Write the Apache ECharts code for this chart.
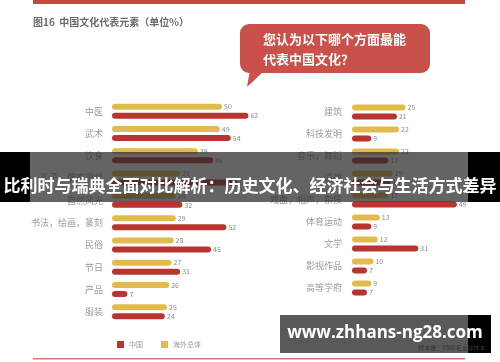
<!DOCTYPE html>
<html><head><meta charset="utf-8">
<script src="https://cdn.jsdelivr.net/npm/echarts@6/dist/echarts.min.js"></script>
<style>html,body{margin:0;padding:0;background:#fff}#c{width:500px;height:362px}</style>
</head><body><div id="c"></div>
<script>
const leftCats = ['中医','武术','饮食','孔子、儒家思想','自然风光','书法，绘画，篆刻','民俗','节日','产品','服装'];
const leftOverseas = [50,49,39,31,29,29,28,27,26,25];
const leftChina = [62,54,46,57,32,52,45,31,7,24];
const rightCats = ['建筑','科技发明','音乐，舞蹈','道教','戏曲，相声，杂技','体育运动','文学','影视作品','高等学府'];
const rightOverseas = [25,22,22,19,17,13,12,10,9];
const rightChina = [21,9,17,18,49,9,31,7,7];

const YEL = '#e3bb4d', RED = '#b8342f';
const F = '"Noto Sans CJK SC", sans-serif';
const chart = echarts.init(document.getElementById('c'));
function barSeries(name, data, color, idx){
  return {name, type:'bar', xAxisIndex:idx, yAxisIndex:idx, data, barWidth:6, barGap:'50%',
    itemStyle:{color, borderRadius:3},
    label:{show:true, position:'right', distance:2, fontSize:7, color:'#8a8a8a', fontFamily:F},
    silent:true};
}
chart.setOption({
  backgroundColor:'#fff',
  animation:false,
  textStyle:{fontFamily:F},
  grid:[{left:112, top:100, width:220, height:223},{left:352, top:101, width:107, height:198}],
  xAxis:[{type:'value', gridIndex:0, min:0, max:100, show:false},
         {type:'value', gridIndex:1, min:0, max:50, show:false}],
  yAxis:[{type:'category', gridIndex:0, data:leftCats, inverse:true, axisLine:{show:false}, axisTick:{show:false},
          axisLabel:{fontSize:9, color:'#9a9a9a', margin:9, fontFamily:F}},
         {type:'category', gridIndex:1, data:rightCats, inverse:true, axisLine:{show:false}, axisTick:{show:false},
          axisLabel:{fontSize:9, color:'#9a9a9a', margin:10, fontFamily:F}}],
  legend:{data:['中国','海外总体'], left:112, top:336, icon:'rect', itemWidth:7, itemHeight:7, itemGap:18,
    textStyle:{fontSize:7, color:'#999', fontFamily:F}},
  series:[
    barSeries('海外总体', leftOverseas, YEL, 0),
    barSeries('中国', leftChina, RED, 0),
    barSeries('海外总体', rightOverseas, YEL, 1),
    barSeries('中国', rightChina, RED, 1)
  ],
  graphic:[
    {type:'rect', shape:{x:33,y:0,width:432,height:4}, style:{fill:'#c4483b'}, z:10},
    {type:'rect', shape:{x:33,y:358,width:432,height:1.5}, style:{fill:'#d9766b'}, z:10},
    {type:'text', x:33, y:17, style:{text:'图16  中国文化代表元素（单位%）', fontSize:10, fontWeight:'bold', fill:'#6b6b6b', fontFamily:F}, z:10},
    {type:'rect', shape:{x:240,y:24,width:190,height:49,r:9}, style:{fill:'#c9514a'}, z:10},
    {type:'polygon', shape:{points:[[250,70],[265,70],[247,87]]}, style:{fill:'#c9514a'}, z:10},
    {type:'text', x:263, y:33, style:{text:'您认为以下哪个方面最能', fontSize:13, fontWeight:'bold', fill:'#fff', fontFamily:F}, z:11},
    {type:'text', x:263, y:53, style:{text:'代表中国文化？', fontSize:13, fontWeight:'bold', fill:'#fff', fontFamily:F}, z:11},
    {type:'rect', shape:{x:0,y:152,width:500,height:50}, style:{fill:'rgba(40,40,40,0.72)'}, z:100},
    {type:'rect', shape:{x:0,y:152,width:30,height:50}, style:{fill:'#000'}, z:100},
    {type:'rect', shape:{x:468,y:152,width:32,height:50}, style:{fill:'#000'}, z:100},
    {type:'text', x:250, y:186, style:{text:'比利时与瑞典全面对比解析：历史文化、经济社会与生活方式差异', fontSize:17, fontWeight:'bold', fill:'#fff', align:'center', verticalAlign:'middle', fontFamily:F}, z:101},
    {type:'rect', shape:{x:280,y:315,width:188,height:38}, style:{fill:'rgba(60,60,60,0.85)'}, z:100},
    {type:'rect', shape:{x:468,y:315,width:23,height:38}, style:{fill:'#000'}, z:100},
    {type:'text', x:385, y:333, style:{text:'www.zhhans-ng28.com', fontSize:17, fontWeight:'bold', fill:'#fff', align:'center', verticalAlign:'middle', fontFamily:'"Open Sans", sans-serif'}, z:101},
    {type:'text', x:452, y:348, style:{text:'样本量：9500名全球样本', fontSize:6, fill:'#333', align:'center', verticalAlign:'middle', fontFamily:F}, z:101}
  ]
});
</script></body></html>
